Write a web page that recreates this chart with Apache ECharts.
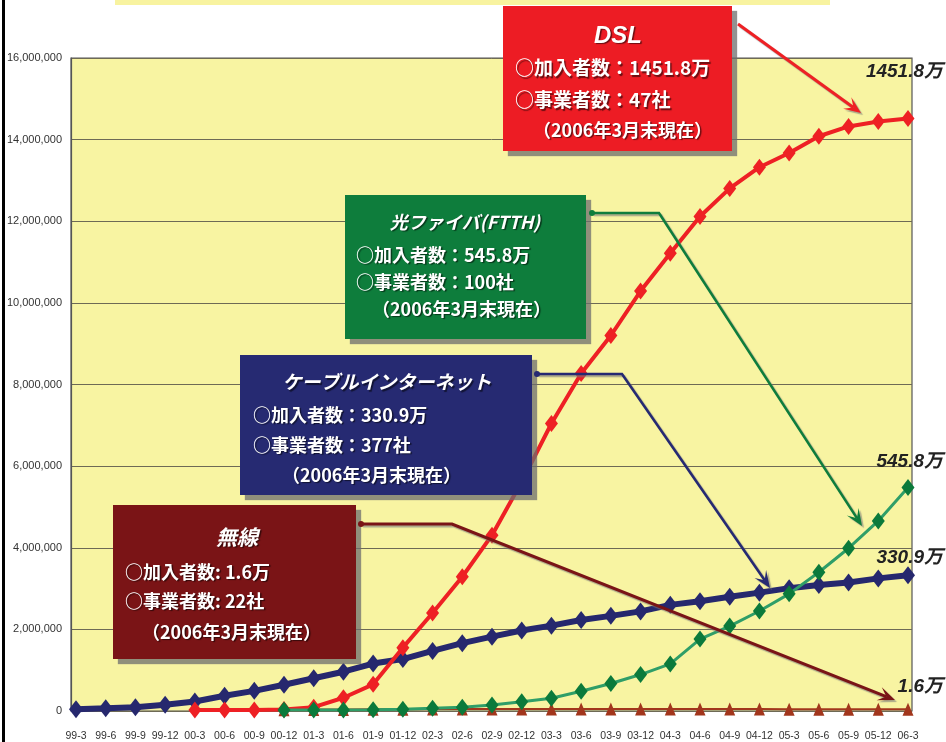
<!DOCTYPE html>
<html><head><meta charset="utf-8">
<script src="https://cdn.jsdelivr.net/npm/echarts@6/dist/echarts.min.js"></script>
<style>html,body{margin:0;padding:0;background:#fff}#c{width:946px;height:742px}</style>
</head><body><div id="c"></div>
<script>
// ---- data ----
var categories = ['99-3','99-6','99-9','99-12','00-3','00-6','00-9','00-12','01-3','01-6','01-9','01-12','02-3','02-6','02-9','02-12','03-3','03-6','03-9','03-12','04-3','04-6','04-9','04-12','05-3','05-6','05-9','05-12','06-3'];
var dsl = [null,null,null,null,200,1000,3000,9700,70000,300000,630000,1530000,2380000,3270000,4290000,5600000,7030000,8260000,9190000,10280000,11210000,12110000,12800000,13320000,13670000,14080000,14320000,14440000,14518000];
var cable = [20000,40000,70000,130000,210000,350000,470000,620000,780000,940000,1140000,1250000,1450000,1640000,1800000,1950000,2070000,2210000,2310000,2420000,2580000,2670000,2780000,2880000,2990000,3070000,3130000,3230000,3309000];
var ftth = [null,null,null,null,null,null,null,0,1000,2000,5000,20000,40000,70000,120000,200000,290000,460000,650000,870000,1130000,1740000,2060000,2430000,2850000,3380000,3970000,4640000,5458000];
var wireless = [null,null,null,null,null,null,null,5000,10000,15000,20000,20000,25000,25000,25000,25000,25000,25000,25000,25000,25000,24000,23000,22000,20000,19000,18000,17000,16000];
var yMin = 0, yMax = 16000000, yStep = 2000000;
var endLabels = ['1451.8万','545.8万','330.9万','1.6万'];

var SANS = '"Liberation Sans","Arimo",sans-serif';
var CJK = '"Noto Sans CJK JP",sans-serif';

// ---- helpers for annotation graphics ----
function boxRect(x,y,w,h,color){
  return {type:'rect', z:100, shape:{x:x,y:y,width:w,height:h},
    style:{fill:color, shadowColor:'rgba(110,110,110,0.75)', shadowBlur:1, shadowOffsetX:5, shadowOffsetY:5}};
}
function txt(s,x,y,font,align,fill,shadow){
  var st = {text:s, x:0, y:0, fill:fill||'#fff', font:font, align:align||'left', verticalAlign:'middle',
    textAlign:align||'left', textVerticalAlign:'middle'};
  if(shadow!==false){ st.textShadowColor='rgba(0,0,0,0.55)'; st.textShadowOffsetX=1.5; st.textShadowOffsetY=1.5; st.textShadowBlur=1; }
  return {type:'text', z:110, x:x, y:y, style:st};
}
function arrow(pts,color,width,dot){
  var els=[];
  var n=pts.length, tip=pts[n-1], prev=pts[n-2];
  var dx=tip[0]-prev[0], dy=tip[1]-prev[1], L=Math.sqrt(dx*dx+dy*dy);
  var ux=dx/L, uy=dy/L, px=-uy, py=ux;
  var len=17, hw=7;
  var back=[tip[0]-ux*len*0.55, tip[1]-uy*len*0.55];
  var line=pts.slice(0,n-1).concat([back]);
  els.push({type:'polyline', z:105, shape:{points:line},
    style:{stroke:color, lineWidth:width, fill:null, shadowColor:'rgba(120,120,120,0.6)', shadowBlur:1, shadowOffsetX:2, shadowOffsetY:2}});
  els.push({type:'polygon', z:106, shape:{points:[tip,[tip[0]-ux*len+px*hw, tip[1]-uy*len+py*hw], back, [tip[0]-ux*len-px*hw, tip[1]-uy*len-py*hw]]},
    style:{fill:color, shadowColor:'rgba(120,120,120,0.6)', shadowBlur:1, shadowOffsetX:2, shadowOffsetY:2}});
  if(dot){ els.push({type:'circle', z:107, shape:{cx:pts[0][0], cy:pts[0][1], r:3}, style:{fill:color}}); }
  return els;
}

var F18 = 'bold 18px ' + CJK;
var FEND = 'italic bold 19px ' + SANS + ',' + CJK;
var graphics = [
  {type:'rect', z:90, shape:{x:115,y:0,width:715,height:5}, style:{fill:'#f8f3a0'}},
  {type:'rect', z:90, shape:{x:2,y:0,width:3,height:742}, style:{fill:'#000'}},
  // DSL
  boxRect(503,6,229,145,'#ed1c24'),
  txt('DSL',618,36,'italic bold 24px '+SANS,'center'),
  txt('○加入者数：1451.8万',515,68,'bold 19px '+CJK),
  txt('○事業者数：47社',515,100,'bold 19px '+CJK),
  txt('（2006年3月末現在）',533,130,'bold 18px '+CJK),
  // FTTH
  boxRect(345,195,241,144,'#0e7d3c'),
  txt('光ファイバ(FTTH)',465,222,'italic bold 18px '+CJK,'center'),
  txt('○加入者数：545.8万',356,255,F18),
  txt('○事業者数：100社',356,282,F18),
  txt('（2006年3月末現在）',372,309,F18),
  // Cable
  boxRect(240,355,292,140,'#262a72'),
  txt('ケーブルインターネット',387,382,'italic bold 19px '+CJK,'center'),
  txt('○加入者数：330.9万',253,415,F18),
  txt('○事業者数：377社',253,445,F18),
  txt('（2006年3月末現在）',282,475,F18),
  // Wireless
  boxRect(113,505,243,154,'#7a1416'),
  txt('無線',237,537,'italic bold 21px '+CJK,'center'),
  txt('○加入者数: 1.6万',125,572,F18),
  txt('○事業者数: 22社',125,601,F18),
  txt('（2006年3月末現在）',142,632,F18),
  // end labels
  txt(endLabels[0],943,72,FEND,'right','#222',false),
  txt(endLabels[1],943,462,FEND,'right','#222',false),
  txt(endLabels[2],943,558,FEND,'right','#222',false),
  txt(endLabels[3],943,687,FEND,'right','#222',false)
];
graphics = graphics
  .concat(arrow([[738,24],[861,113]],'#ee2024',3,false))
  .concat(arrow([[592,213],[659,213],[862,526]],'#0e7d3c',2.5,true))
  .concat(arrow([[537,374],[622,374],[770,588]],'#262a72',2.5,true))
  .concat(arrow([[361,524],[452,524],[895,700]],'#7a1416',3,true));

var chart = echarts.init(document.getElementById('c'), null, {renderer:'canvas'});
chart.setOption({
  animation:false,
  backgroundColor:'#fff',
  grid:[
    {left:71,right:34,top:58,bottom:31,show:true,backgroundColor:'#f8f4a2',borderColor:'#555',borderWidth:1.2},
    {left:76,right:38,top:58,bottom:31}
  ],
  xAxis:[
    {gridIndex:0,type:'value',min:0,max:1,show:false},
    {gridIndex:1,type:'category',data:categories,boundaryGap:false,
      axisLine:{show:false},axisTick:{show:false},
      axisLabel:{interval:0,margin:21,fontSize:10.5,fontFamily:SANS,color:'#333'}}
  ],
  yAxis:[
    {gridIndex:0,type:'value',min:yMin,max:yMax,interval:yStep,
      axisLine:{show:true,lineStyle:{color:'#555',width:1.2}},axisTick:{show:false},
      splitLine:{lineStyle:{color:'#6e6a55',width:1}},
      axisLabel:{margin:9,fontSize:11,fontFamily:SANS,color:'#333',
        formatter:function(v){return v.toLocaleString('en-US');}}},
    {gridIndex:1,type:'value',min:yMin,max:yMax,interval:yStep,show:false,splitLine:{show:false}}
  ],
  series:[
    {name:'無線',type:'line',xAxisIndex:1,yAxisIndex:1,data:wireless,z:3,
      symbol:'triangle',symbolSize:[11,13],showAllSymbol:true,
      lineStyle:{color:'#a2361c',width:2},itemStyle:{color:'#a2361c'}},
    {name:'ケーブルインターネット',type:'line',xAxisIndex:1,yAxisIndex:1,data:cable,z:4,
      symbol:'diamond',symbolSize:[14,18],showAllSymbol:true,
      lineStyle:{color:'#26286e',width:6},itemStyle:{color:'#26286e'}},
    {name:'DSL',type:'line',xAxisIndex:1,yAxisIndex:1,data:dsl,z:5,
      symbol:'diamond',symbolSize:[13,17],showAllSymbol:true,
      lineStyle:{color:'#ee2024',width:4},itemStyle:{color:'#ee2024'}},
    {name:'光ファイバ(FTTH)',type:'line',xAxisIndex:1,yAxisIndex:1,data:ftth,z:6,
      symbol:'diamond',symbolSize:[13,17],showAllSymbol:true,
      lineStyle:{color:'#2f9e68',width:3},itemStyle:{color:'#0b7a3b'}}
  ],
  graphic:{elements:graphics}
});
</script></body></html>
